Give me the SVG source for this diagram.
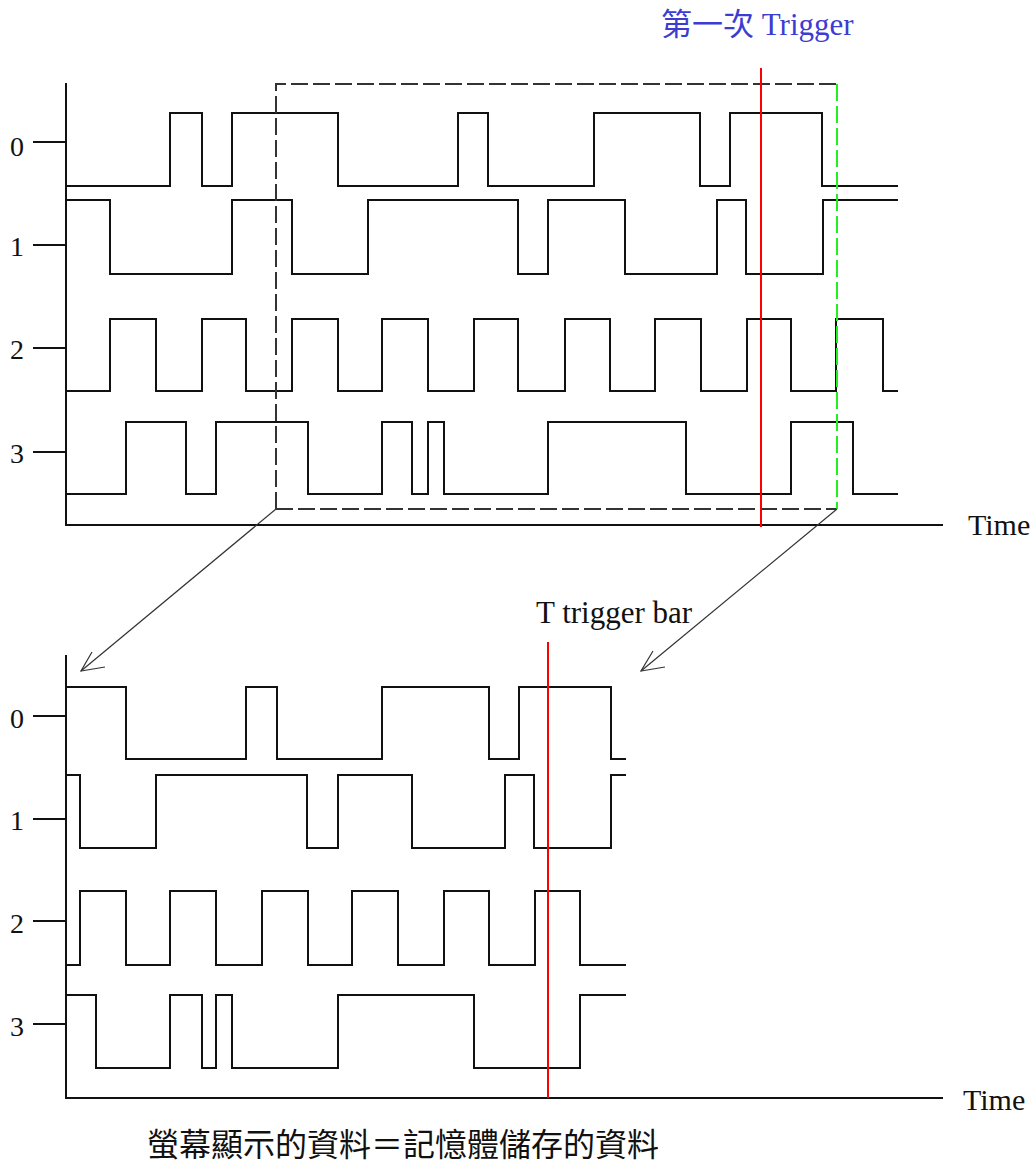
<svg xmlns="http://www.w3.org/2000/svg" width="1035" height="1164" viewBox="0 0 1035 1164">
<style>
.wave{fill:none;stroke:#111;stroke-width:2;stroke-linejoin:miter;stroke-linecap:square}
.axis{fill:none;stroke:#111;stroke-width:2}
.tick{stroke:#111;stroke-width:2}
.dash{fill:none;stroke:#333;stroke-width:2;stroke-dasharray:17 5}
.gdash{fill:none;stroke:#22ee22;stroke-width:2;stroke-dasharray:17 5}
.red{stroke:#ff0000;stroke-width:2}
.arrow{fill:none;stroke:#333;stroke-width:1.2}
.lbl{font-family:"Liberation Serif","Times New Roman",serif;font-size:28px;fill:#111;text-anchor:middle}
.ser{font-family:"Liberation Serif","Noto Sans CJK TC",serif;font-size:30px;fill:#111}
.cjk{font-family:"Noto Sans CJK TC","Noto Sans CJK SC",sans-serif;font-size:32px;fill:#111}
</style>
<rect width="1035" height="1164" fill="#ffffff"/>

<g id="top-chart">
  <path class="axis" d="M66,83 V525 H943"/>
  <line class="tick" x1="33" y1="142" x2="66" y2="142"/>
  <line class="tick" x1="33" y1="245" x2="66" y2="245"/>
  <line class="tick" x1="33" y1="348" x2="66" y2="348"/>
  <line class="tick" x1="33" y1="452" x2="66" y2="452"/>
  <text class="lbl" x="17" y="156">0</text>
  <text class="lbl" x="17" y="256">1</text>
  <text class="lbl" x="17" y="359">2</text>
  <text class="lbl" x="17" y="463">3</text>
  <text class="ser" x="968" y="535">Time</text>
  <path id="top-w0" class="wave" d="M66,186 H170 V113 H202 V186 H232 V113 H338 V186 H458 V113 H488 V186 H594 V113 H700 V186 H730 V113 H822 V186 H897"/>
  <path id="top-w1" class="wave" d="M66,200 H110 V274 H232 V200 H292 V274 H368 V200 H518 V274 H548 V200 H625 V274 H717 V200 H746 V274 H823 V200 H897"/>
  <path id="top-w2" class="wave" d="M66,391 H110 V319 H156 V391 H202 V319 H246 V391 H292 V319 H338 V391 H382 V319 H428 V391 H474 V319 H518 V391 H565 V319 H610 V391 H655 V319 H701 V391 H747 V319 H791 V391 H836 V319 H883 V391 H897"/>
  <path id="top-w3" class="wave" d="M66,494 H126 V422 H186 V494 H216 V422 H308 V494 H382 V422 H412 V494 H428 V422 H444 V494 H548 V422 H686 V494 H791 V422 H853 V494 H897"/>
</g>

<g id="capture-window">
  <path class="dash" d="M276,509 V84 H837"/>
  <path class="dash" d="M276,509 H837"/>
  <line class="gdash" x1="837" y1="84" x2="837" y2="509"/>
</g>

<g id="first-trigger">
  <line class="red" x1="761" y1="68" x2="761" y2="527"/>
  <text x="661" y="35" style="font-family:'Liberation Serif','Noto Sans CJK TC',serif;font-size:31px;fill:#3c3cd2">第一次 Trigger</text>
</g>

<g id="bottom-chart">
  <path class="axis" d="M66,655 V1098 H943"/>
  <line class="tick" x1="33" y1="716" x2="66" y2="716"/>
  <line class="tick" x1="33" y1="819" x2="66" y2="819"/>
  <line class="tick" x1="33" y1="921" x2="66" y2="921"/>
  <line class="tick" x1="33" y1="1024" x2="66" y2="1024"/>
  <text class="lbl" x="17" y="728">0</text>
  <text class="lbl" x="17" y="830">1</text>
  <text class="lbl" x="17" y="933">2</text>
  <text class="lbl" x="17" y="1036">3</text>
  <text class="ser" x="963" y="1110">Time</text>
  <path id="bot-w0" class="wave" d="M66,687 H126 V759 H246 V687 H277 V759 H382 V687 H489 V759 H519 V687 H611 V759 H625"/>
  <path id="bot-w1" class="wave" d="M66,775 H80 V848 H156 V775 H307 V848 H338 V775 H412 V848 H505 V775 H534 V848 H611 V775 H625"/>
  <path id="bot-w2" class="wave" d="M66,965 H80 V891 H126 V965 H170 V891 H216 V965 H262 V891 H308 V965 H352 V891 H398 V965 H444 V891 H489 V965 H535 V891 H580 V965 H625"/>
  <path id="bot-w3" class="wave" d="M66,995 H96 V1068 H170 V995 H202 V1068 H216 V995 H232 V1068 H338 V995 H474 V1068 H580 V995 H625"/>
</g>

<g id="trigger-bar">
  <line class="red" x1="548" y1="642" x2="548" y2="1098"/>
  <text class="ser" x="536" y="623" style="font-size:31px">T trigger bar</text>
</g>

<g id="connectors">
  <line class="arrow" x1="276" y1="509" x2="81" y2="671"/>
  <polyline class="arrow" points="92,652 81,671 105,667"/>
  <line class="arrow" x1="837" y1="509" x2="641" y2="671"/>
  <polyline class="arrow" points="653,651 641,671 665,667"/>
</g>

<g id="caption">
  <text class="cjk" x="147" y="1156">螢幕顯示的資料＝記憶體儲存的資料</text>
</g>
</svg>
